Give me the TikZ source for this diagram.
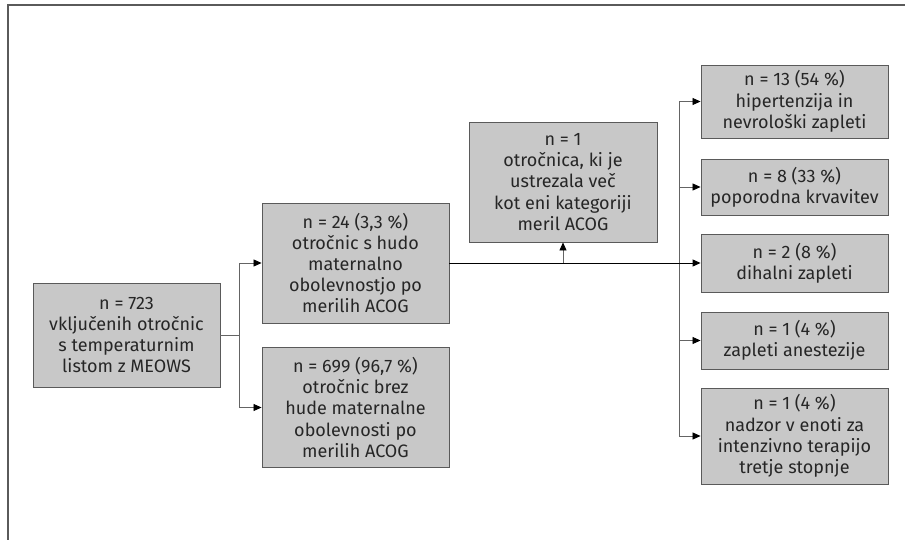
\documentclass[tikz,border=0pt]{standalone}
\usepackage{fontspec}
\setmainfont{Fira Sans}
\usetikzlibrary{arrows.meta}
\definecolor{boxfill}{RGB}{200,200,200}
\definecolor{boxline}{RGB}{90,90,90}
\definecolor{conn}{RGB}{100,100,100}
\begin{document}
\begin{tikzpicture}[x=1pt,y=-1pt,
  flowbox/.style={draw=boxline,fill=boxfill,line width=0.9pt,align=center,
    minimum width=187pt,inner sep=0pt,
    font=\fontsize{18}{21.2}\selectfont,text=black!85},
  conline/.style={draw=conn,line width=0.8pt},
  mainline/.style={draw=black,line width=1pt},
  tip/.style={-{Triangle[length=8pt,width=7pt,color=black]}}]
\useasboundingbox (0,0) rectangle (905,540);
\draw[boxline,line width=2pt] (905,5) -- (7.5,5) -- (7.5,540);
\node[flowbox,minimum height=104pt] (A) at (126.5,335) {n = 723\\vključenih otročnic\\s temperaturnim\\listom z MEOWS};
\node[flowbox,minimum height=120pt] (B) at (355.5,263) {n = 24 (3,3 \%)\\otročnic s hudo\\maternalno\\obolevnostjo po\\merilih ACOG};
\node[flowbox,minimum height=120pt] (C) at (355.5,407.5) {n = 699 (96,7 \%)\\otročnic brez\\hude maternalne\\obolevnosti po\\merilih ACOG};
\node[flowbox,minimum height=120pt,minimum width=188pt] (D) at (563,182) {n = 1\\otročnica, ki je\\ustrezala več\\kot eni kategoriji\\meril ACOG};
\node[flowbox,minimum height=73pt] (E1) at (794.5,101.5) {n = 13 (54 \%)\\hipertenzija in\\nevrološki zapleti};
\node[flowbox,minimum height=56pt] (E2) at (794.5,187) {n = 8 (33 \%)\\poporodna krvavitev};
\node[flowbox,minimum height=58pt] (E3) at (794.5,263) {n = 2 (8 \%)\\dihalni zapleti};
\node[flowbox,minimum height=57pt] (E4) at (794.5,340.5) {n = 1 (4 \%)\\zapleti anestezije};
\node[flowbox,minimum height=96pt] (E5) at (794.5,436) {n = 1 (4 \%)\\nadzor v enoti za\\intenzivno terapijo\\tretje stopnje};
\coordinate (s1) at (239,335);
\coordinate (s2) at (679,263);
\coordinate (up) at (563,263);
\draw[conline] (A.east) -- (s1);
\draw[conline,tip] (s1) |- (B.west);
\draw[conline,tip] (s1) |- (C.west);
\draw[conline,tip] (s2) |- (E1.west);
\draw[conline,tip] (s2) |- (E2.west);
\draw[conline,tip] (s2) |- (E4.west);
\draw[conline,tip] (s2) |- (E5.west);
\draw[conline,tip] (up) -- (D.south);
\draw[mainline,tip] (B.east) -- (E3.west);
\end{tikzpicture}
\end{document}
